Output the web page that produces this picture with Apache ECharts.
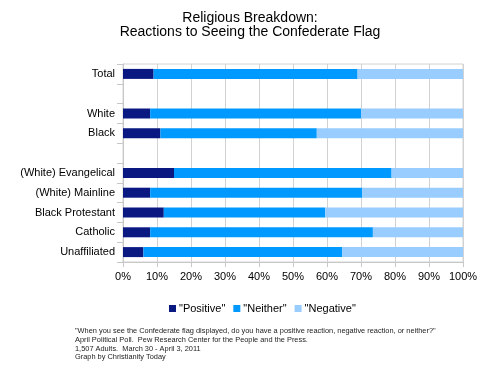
<!DOCTYPE html>
<html><head><meta charset="utf-8">
<script src="https://cdn.jsdelivr.net/npm/echarts@6/dist/echarts.min.js"></script>
<style>html,body{margin:0;padding:0;background:#fff}#c{width:500px;height:371px}</style>
</head><body><div id="c"></div>
<script>
var categories = ['Total', '', 'White', 'Black', ' ', '(White) Evangelical', '(White) Mainline', 'Black Protestant', 'Catholic', 'Unaffiliated'];
var positive = [9, null, 8, 11, null, 15, 8, 12, 8, 6];
var neither = [60, null, 62, 46, null, 64, 62.4, 47.5, 65.5, 58.5];
var negative = [31, null, 30, 43, null, 21, 29.6, 40.5, 26.5, 35.5];
var seriesNames = ['"Positive"', '"Neither"', '"Negative"'];
var titleText = 'Religious Breakdown:\nReactions to Seeing the Confederate Flag';
var footnote = '"When you see the Confederate flag displayed, do you have a positive reaction, negative reaction, or neither?"\nApril Political Poll.  Pew Research Center for the People and the Press.\n1,507 Adults.  March 30 - April 3, 2011\nGraph by Christianity Today';

var chart = echarts.init(document.getElementById('c'), null, {renderer: 'canvas'});
var font = 'Liberation Sans, Arial, sans-serif';
var colors = ['#0a1882', '#0099ff', '#99ccff'];
function mk(name, data, color) {
  return {name: name, type: 'bar', stack: 'all', data: data, barWidth: 10,
    itemStyle: {color: color}, animation: false};
}
chart.setOption({
  animation: false,
  title: [{
    text: titleText, left: 'center', top: 6,
    textStyle: {fontFamily: font, fontSize: 14, fontWeight: 'normal', color: '#000', lineHeight: 14}
  }, {
    text: footnote, left: 75, top: 326.5, padding: 0,
    textStyle: {fontFamily: font, fontSize: 7.4, fontWeight: 'normal', color: '#222', lineHeight: 8.8}
  }],
  legend: {
    data: seriesNames, top: 298, left: 164, itemWidth: 7, itemHeight: 7, itemGap: 8,
    icon: 'rect',
    textStyle: {fontFamily: font, fontSize: 11, color: '#000', padding: [0, 0, 0, -2]}
  },
  grid: {left: 123, right: 37, top: 64, bottom: 109, show: true, borderColor: '#d2d2d2', borderWidth: 1, containLabel: false},
  xAxis: {
    type: 'value', min: 0, max: 100, interval: 10,
    axisLine: {show: true, lineStyle: {color: '#c8c8c8'}},
    axisTick: {show: true, length: 5, lineStyle: {color: '#c8c8c8'}},
    axisLabel: {formatter: '{value}%', fontFamily: font, fontSize: 11, color: '#000', margin: 9},
    splitLine: {show: true, lineStyle: {color: '#d2d2d2'}}
  },
  yAxis: {
    type: 'category', data: categories, inverse: true,
    axisLine: {show: true, lineStyle: {color: '#c8c8c8'}},
    axisTick: {show: true, length: 6, lineStyle: {color: '#c8c8c8'}},
    axisLabel: {fontFamily: font, fontSize: 11, color: '#000', margin: 8},
    splitLine: {show: false}
  },
  series: [mk(seriesNames[0], positive, colors[0]), mk(seriesNames[1], neither, colors[1]), mk(seriesNames[2], negative, colors[2])]
});
</script></body></html>
